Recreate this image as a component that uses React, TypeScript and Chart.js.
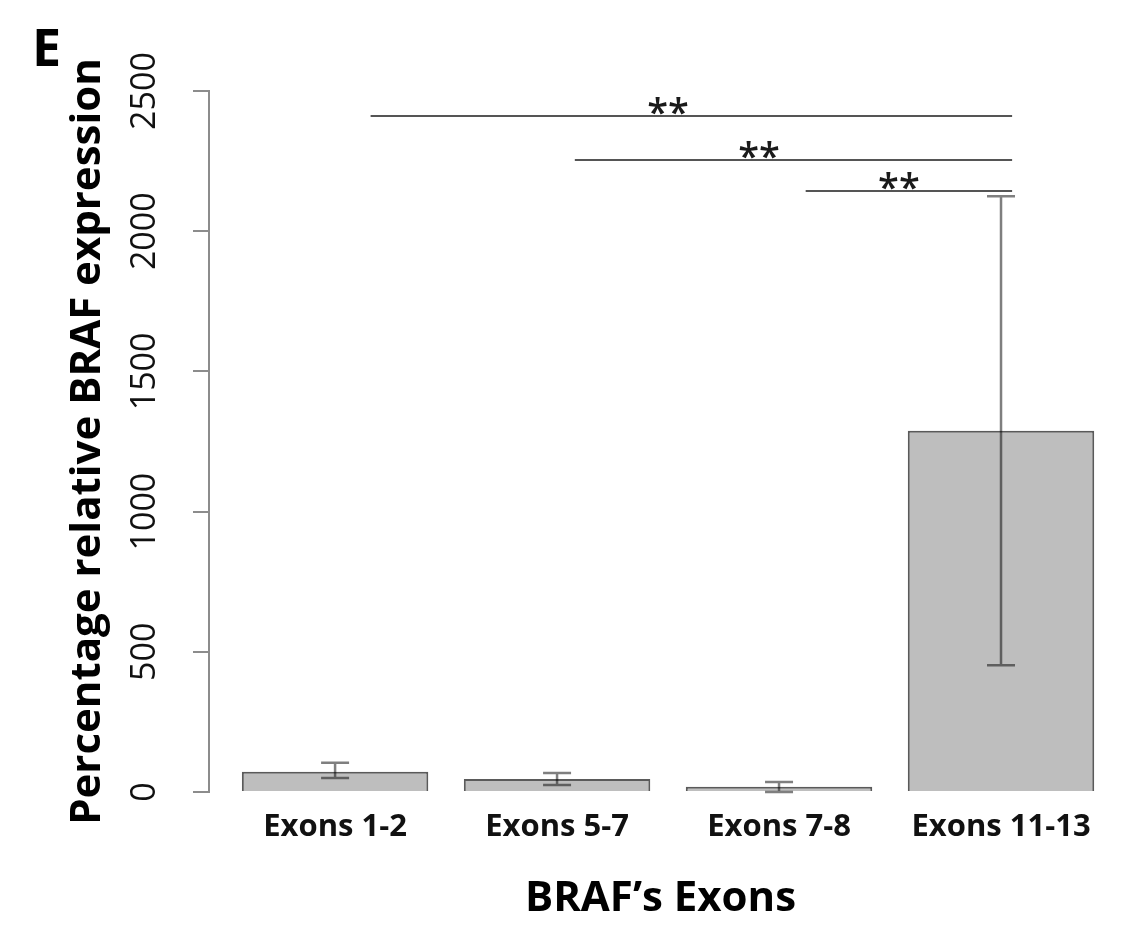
import React, { useEffect, useRef } from "react";
import { Chart, registerables } from "chart.js";

Chart.register(...registerables);

// ---- data ----
const categories = ["Exons 1-2", "Exons 5-7", "Exons 7-8", "Exons 11-13"];
const meanValues = [72, 46, 19, 1288];
const errHigh = [104, 68, 36, 2125];
const errLow = [50, 25, 0, 452];
const yTicks = [0, 500, 1000, 1500, 2000, 2500];
const sigFrom = [0.16, 1.08, 2.12];
const sigTo = [3.05, 3.05, 3.05];
const sigLevel = [2411, 2254, 2143];
const sigStarX = [1.5, 1.91, 2.54];
const sigLabel = ["**", "**", "**"];
const panelLabel = "E";
const yTitle = "Percentage relative BRAF expression";
const xTitle = "BRAF\u2019s Exons";

const FONT = "'Open Sans', 'Liberation Sans', sans-serif";

const errorBarPlugin = {
  id: "errorBars",
  afterDatasetsDraw(chart: any) {
    const ctx = chart.ctx;
    const meta = chart.getDatasetMeta(0);
    const y = chart.scales.y;
    ctx.save();
    ctx.strokeStyle = "rgba(0,0,0,0.5)";
    ctx.lineWidth = 2.5;
    meta.data.forEach((bar: any, i: number) => {
      const x = bar.x;
      const yH = y.getPixelForValue(errHigh[i]);
      const yL = y.getPixelForValue(errLow[i]);
      const cap = 14;
      ctx.beginPath();
      ctx.moveTo(x, yH);
      ctx.lineTo(x, yL);
      ctx.moveTo(x - cap, yH);
      ctx.lineTo(x + cap, yH);
      ctx.moveTo(x - cap, yL);
      ctx.lineTo(x + cap, yL);
      ctx.stroke();
    });
    ctx.restore();
  },
};

const sigPlugin = {
  id: "sig",
  afterDatasetsDraw(chart: any) {
    const ctx = chart.ctx;
    const xs = chart.scales.x;
    const ys = chart.scales.y;
    ctx.save();
    ctx.strokeStyle = "#555";
    ctx.lineWidth = 2;
    ctx.fillStyle = "#1a1a1a";
    ctx.font = `600 38px ${FONT}`;
    ctx.textAlign = "center";
    ctx.textBaseline = "alphabetic";
    sigLevel.forEach((lv, i) => {
      const yy = ys.getPixelForValue(lv);
      ctx.beginPath();
      ctx.moveTo(xs.getPixelForValue(sigFrom[i]), yy);
      ctx.lineTo(xs.getPixelForValue(sigTo[i]), yy);
      ctx.stroke();
      ctx.fillText(sigLabel[i], xs.getPixelForValue(sigStarX[i]), yy + 10);
    });
    // panel label
    ctx.fillStyle = "#000";
    ctx.font = `bold 52px ${FONT}`;
    ctx.textAlign = "left";
    ctx.fillText(panelLabel, 32, 66);
    ctx.restore();
  },
};

export default function App() {
  const ref = useRef<HTMLCanvasElement | null>(null);
  useEffect(() => {
    if (!ref.current) return;
    const chart = new Chart(ref.current, {
      type: "bar",
      data: {
        datasets: [
          {
            data: meanValues.map((v, i) => ({ x: i, y: v })),
            backgroundColor: "#bebebe",
            borderColor: "#5a5a5a",
            borderWidth: 2,
            barPercentage: 0.84,
            categoryPercentage: 1,
          } as any,
        ],
      },
      options: {
        animation: false,
        responsive: true,
        maintainAspectRatio: false,
        devicePixelRatio: 1,
        layout: { padding: { left: 0, top: 91, right: 9, bottom: 0 } },
        plugins: { legend: { display: false }, tooltip: { enabled: false } },
        scales: {
          x: {
            type: "linear",
            min: -0.568,
            max: 3.5,
            offset: false,
            bounds: "data",
            grid: { display: false, offset: false },
            border: { display: false },
            afterBuildTicks: (s: any) => {
              s.ticks = categories.map((_, i) => ({ value: i }));
            },
            afterFit: (s: any) => {
              s.height = 135;
            },
            ticks: {
              callback: (v: any) => categories[v] ?? "",
              color: "#111",
              font: { family: FONT, size: 31, weight: "bold" },
              padding: 9,
              maxRotation: 0,
              autoSkip: false,
            },
            title: {
              display: true,
              text: xTitle,
              color: "#000",
              font: { family: FONT, size: 42, weight: "bold" },
              padding: { top: 0, bottom: 3 },
            },
          } as any,
          y: {
            min: 0,
            max: 2500,
            afterBuildTicks: (s: any) => {
              s.ticks = yTicks.map((v) => ({ value: v }));
            },
            afterFit: (s: any) => {
              s.width = 209;
            },
            grid: {
              display: true,
              drawOnChartArea: false,
              drawTicks: true,
              tickLength: 16,
              color: "#8c8c8c",
              lineWidth: 2,
            },
            border: { display: true, color: "#8c8c8c", width: 2 },
            ticks: {
              callback: (v: any) => String(v),
              color: "#111",
              font: { family: FONT, size: 34 },
              minRotation: 90,
              maxRotation: 90,
              crossAlign: "center",
              padding: 9,
            },
            title: {
              display: true,
              text: yTitle,
              color: "#000",
              font: { family: FONT, size: 42, weight: "bold" },
              padding: { top: 63, bottom: 0 },
            },
          } as any,
        },
      },
      plugins: [errorBarPlugin, sigPlugin],
    });
    return () => chart.destroy();
  }, []);
  return (
    <div style={{ position: "fixed", left: 0, top: 0, width: 1121, height: 927, background: "#fff" }}>
      <canvas ref={ref} style={{ display: "block" }} />
    </div>
  );
}
